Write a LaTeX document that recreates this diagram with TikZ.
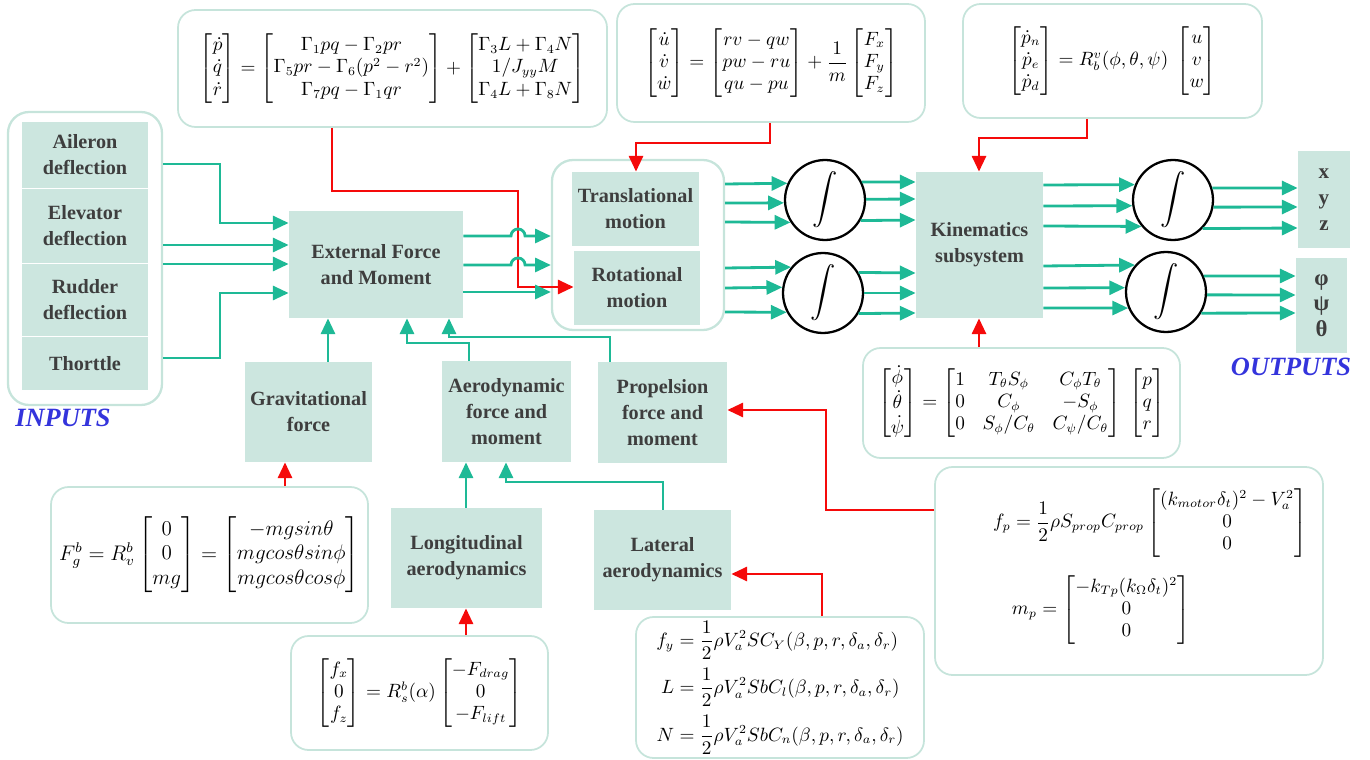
\documentclass[tikz,border=0pt]{standalone}
\usepackage{amsmath}
\usepackage{fontspec}
\setmainfont{Liberation Serif}
\usetikzlibrary{arrows.meta,calc}
\definecolor{boxfill}{HTML}{CCE6DF}
\definecolor{grpedge}{HTML}{C6E4DB}
\definecolor{garrow}{HTML}{1EB996}
\definecolor{rarrow}{HTML}{F50A0A}
\definecolor{txtgray}{HTML}{3E3E3E}
\definecolor{ioblue}{HTML}{3434DC}
\tikzset{
  pbox/.style n args={4}{at={(#1/2+#3/2,#2/2+#4/2)}, minimum width={(#3-#1)*0.02cm}, minimum height={(#4-#2)*0.02cm}},
  blk/.style={fill=boxfill, draw=none, inner sep=0pt, align=center, text=txtgray,
              font=\bfseries\fontsize{11.5}{14.7}\selectfont},
  grp/.style={draw=grpedge, line width=1.3pt, rounded corners=12pt, inner sep=0pt},
  eqbox/.style={draw=grpedge, line width=1pt, rounded corners=10pt, inner sep=0pt, fill=white,
                font=\fontsize{10.7}{12.8}\selectfont},
  eqtxt/.style={inner sep=0pt, font=\fontsize{10.7}{12.8}\selectfont},
  garr/.style={draw=garrow, line width=1.6pt, -{Triangle[length=9pt,width=8pt]}},
  rarr/.style={draw=rarrow, line width=1.6pt, -{Triangle[length=9pt,width=8pt]}},
  integ/.style={circle, draw=black, line width=1.3pt, minimum size=1.6cm, inner sep=0pt,
                font=\fontsize{14}{14}\selectfont},
  iolabel/.style={text=ioblue, font=\bfseries\itshape\fontsize{15}{15}\selectfont, inner sep=0pt}
}
\begin{document}
\begin{tikzpicture}[x=0.02cm,y=-0.02cm]
\useasboundingbox (0,0) rectangle (1370,760);

% ---------- equation boxes ----------
\node[eqbox, pbox={178}{10}{607}{127}] (eq1) {$\begin{bmatrix}\dot p\\ \dot q\\ \dot r\end{bmatrix} = \begin{bmatrix}\Gamma_1pq-\Gamma_2pr\\ \Gamma_5pr-\Gamma_6(p^2-r^2)\\ \Gamma_7pq-\Gamma_1qr\end{bmatrix} + \begin{bmatrix}\Gamma_3L+\Gamma_4N\\ 1/J_{yy}M\\ \Gamma_4L+\Gamma_8N\end{bmatrix}$};
\node[eqbox, pbox={617}{4}{925}{122}] (eq2) {$\begin{bmatrix}\dot u\\ \dot v\\ \dot w\end{bmatrix} = \begin{bmatrix}rv-qw\\ pw-ru\\ qu-pu\end{bmatrix} + \dfrac{1}{m}\begin{bmatrix}F_x\\ F_y\\ F_z\end{bmatrix}$};
\node[eqbox, pbox={963}{4}{1262}{118}] (eq3) {$\begin{bmatrix}\dot p_n\\ \dot p_e\\ \dot p_d\end{bmatrix} = R_b^v(\phi,\theta,\psi)\;\begin{bmatrix}u\\ v\\ w\end{bmatrix}$};
\node[eqbox, pbox={863}{348}{1180}{458}] (eqk) {$\begin{bmatrix}\dot\phi\\ \dot\theta\\ \dot\psi\end{bmatrix} = \begin{bmatrix}1 & T_\theta S_\phi & C_\phi T_\theta\\ 0 & C_\phi & -S_\phi\\ 0 & S_\phi/C_\theta & C_\psi/C_\theta\end{bmatrix}\;\begin{bmatrix}p\\ q\\ r\end{bmatrix}$};
\node[eqbox, pbox={51}{487}{368}{623}, font=\fontsize{11.5}{13.8}\selectfont] (eqg) {$F_g^b = R_v^b\begin{bmatrix}0\\ 0\\ mg\end{bmatrix} = \begin{bmatrix}-mgsin\theta\\ mgcos\theta sin\phi\\ mgcos\theta cos\phi\end{bmatrix}$};
\node[eqbox, pbox={291}{636}{548}{750}] (eql) {$\begin{bmatrix}f_x\\ 0\\ f_z\end{bmatrix} = R_s^b(\alpha)\begin{bmatrix}-F_{drag}\\ 0\\ -F_{lift}\end{bmatrix}$};
\node[eqbox, pbox={636}{617}{924}{758}] (eqlat) {$\begin{aligned} f_y &= \dfrac12\rho V_a^2 SC_Y(\beta,p,r,\delta_a,\delta_r)\\[1pt] L &= \dfrac12\rho V_a^2 SbC_l(\beta,p,r,\delta_a,\delta_r)\\[1pt] N &= \dfrac12\rho V_a^2 SbC_n(\beta,p,r,\delta_a,\delta_r)\end{aligned}$};
\node[eqbox, pbox={935}{467}{1323}{675}] (eqp) {};
\node[eqtxt] (eqpf) at (1150,523) {$f_p = \dfrac12\rho S_{prop}C_{prop}\begin{bmatrix}(k_{motor}\delta_t)^2 - V_a^2\\ 0\\ 0\end{bmatrix}$};
\node[eqtxt] (eqpm) at (1101,610) {$m_p = \begin{bmatrix}-k_{Tp}(k_\Omega\delta_t)^2\\ 0\\ 0\end{bmatrix}$};

% ---------- groups ----------
\node[grp, pbox={8}{112}{162}{405}] (inbox) {};
\node[grp, pbox={552}{160}{724}{330}] (mot) {};

% ---------- blocks ----------
\node[blk, pbox={22}{122}{148}{188}] (ail) {Aileron\\deflection};
\node[blk, pbox={22}{189}{148}{263}] (elev) {Elevator\\deflection};
\node[blk, pbox={22}{264}{148}{336}] (rud) {Rudder\\deflection};
\node[blk, pbox={22}{337}{148}{390}] (thr) {Thorttle};
\node[blk, pbox={289}{211}{463}{318}] (ext) {External Force\\and Moment};
\node[blk, pbox={572}{172}{699}{246}] (trans) {Translational\\motion};
\node[blk, pbox={574}{251}{700}{325}] (rot) {Rotational\\motion};
\node[blk, pbox={916}{172}{1043}{318}] (kin) {Kinematics\\subsystem};
\node[blk, pbox={1298}{151}{1350}{248}, font=\bfseries\fontsize{12}{14.7}\selectfont] (xyz) {x\\y\\z};
\node[blk, pbox={1296}{258}{1347}{353}, font=\bfseries\fontsize{13}{14.5}\selectfont] (ang) {φ\\ψ\\θ};
\node[blk, pbox={245}{362}{372}{462}] (grav) {Gravitational\\force};
\node[blk, pbox={442}{361}{571}{462}] (aero) {Aerodynamic\\force and\\moment};
\node[blk, pbox={598}{362}{727}{463}] (prop) {Propelsion\\force and\\moment};
\node[blk, pbox={391}{508}{542}{608}] (long) {Longitudinal\\aerodynamics};
\node[blk, pbox={594}{510}{731}{610}] (lat) {Lateral\\aerodynamics};

\node[iolabel] (inlbl) at (63,418) {INPUTS};
\node[iolabel] (outlbl) at (1291,367) {OUTPUTS};

% ---------- integrators ----------
\node[integ] (i1) at (825,200) {$\displaystyle\int$};
\node[integ] (i2) at (823,293) {$\displaystyle\int$};
\node[integ] (i3) at (1173,200) {$\displaystyle\int$};
\node[integ] (i4) at (1166,292) {$\displaystyle\int$};

% ---------- red connectors ----------
\draw[rarr] (eq1.south -| 332,0) -- (332,191) -- (518,191) -- (518,287) -- (rot.west |- 0,287);
\draw[rarr] (eq2.south -| 770,0) -- (770,143) -- (636,143) -- (trans.north -| 636,0);
\draw[rarr] (eq3.south -| 1087,0) -- (1087,138) -- (979,138) -- (kin.north -| 979,0);
\draw[rarr] (eqk.north -| 979,0) -- (kin.south -| 979,0);
\draw[rarr] (eqg.north -| 285,0) -- (grav.south -| 285,0);
\draw[rarr] (eql.north -| 466,0) -- (long.south -| 466,0);
\draw[rarr] (eqlat.north -| 822,0) -- (822,574) -- (lat.east |- 0,574);
\draw[rarr] (eqp.west |- 0,510) -- (826,510) -- (826,410) -- (prop.east |- 0,410);

% ---------- inputs to external ----------
\draw[garr] (inbox.east |- 0,164) -- (220,164) -- (220,223) -- (ext.west |- 0,223);
\draw[garr] (inbox.east |- 0,245) -- (ext.west |- 0,245);
\draw[garr] (inbox.east |- 0,264) -- (ext.west |- 0,264);
\draw[garr] (inbox.east |- 0,358) -- (220,358) -- (220,293) -- (ext.west |- 0,293);

% ---------- external to motion ----------
\draw[garr] (ext.east |- 0,236) -- (511,236) arc[start angle=180,end angle=0,radius=4pt] -- (mot.west |- 0,236);
\draw[garr] (ext.east |- 0,265) -- (511,265) arc[start angle=180,end angle=0,radius=4pt] -- (mot.west |- 0,265);
\draw[garr] (ext.east |- 0,292) -- (mot.west |- 0,292);

% ---------- forces to external ----------
\draw[garr] (grav.north -| 328,0) -- (ext.south -| 328,0);
\draw[garr] (aero.north -| 469,0) -- (469,343) -- (407,343) -- (ext.south -| 407,0);
\draw[garr] (prop.north -| 610,0) -- (610,337) -- (449,337) -- (ext.south -| 449,0);
\draw[garr] (long.north -| 466,0) -- (aero.south -| 466,0);
\draw[garr] (lat.north -| 663,0) -- (663,482) -- (506,482) -- (aero.south -| 506,0);

% ---------- motion to integrators ----------
\draw[garr] (mot.east |- 0,184) -- (i1.156.4);
\draw[garr] (mot.east |- 0,203) -- (i1.184.3);
\draw[garr] (mot.east |- 0,222) -- (i1.213.4);
\draw[garr] (mot.east |- 0,268) -- (i2.141.3);
\draw[garr] (mot.east |- 0,288) -- (i2.172.8);
\draw[garr] (mot.east |- 0,312) -- (i2.208.4);

% ---------- integrators to kinematics ----------
\draw[garr] (i1.26.7) -- (kin.west |- 0,182);
\draw[garr] (i1.1.4) -- (kin.west |- 0,199);
\draw[garr] (i1.-30) -- (kin.west |- 0,220);
\draw[garr] (i2.30) -- (kin.west |- 0,273);
\draw[garr] (i2.0) -- (kin.west |- 0,293);
\draw[garr] (i2.-30) -- (kin.west |- 0,313);

% ---------- kinematics to integrators ----------
\draw[garr] (kin.east |- 0,185) -- (i3.158);
\draw[garr] (kin.east |- 0,206) -- (i3.188.6);
\draw[garr] (kin.east |- 0,226) -- (i3.220.5);
\draw[garr] (kin.east |- 0,266) -- (i4.139.5);
\draw[garr] (kin.east |- 0,288) -- (i4.174.3);
\draw[garr] (kin.east |- 0,308) -- (i4.203.6);

% ---------- integrators to outputs ----------
\draw[garr] (i3.17.5) -- (xyz.west |- 0,188);
\draw[garr] (i3.-10) -- (xyz.west |- 0,207);
\draw[garr] (i3.-44.4) -- (xyz.west |- 0,228);
\draw[garr] (i4.23.6) -- (ang.west |- 0,276);
\draw[garr] (i4.-4.3) -- (ang.west |- 0,295);
\draw[garr] (i4.-31.7) -- (ang.west |- 0,313);
\end{tikzpicture}
\end{document}
